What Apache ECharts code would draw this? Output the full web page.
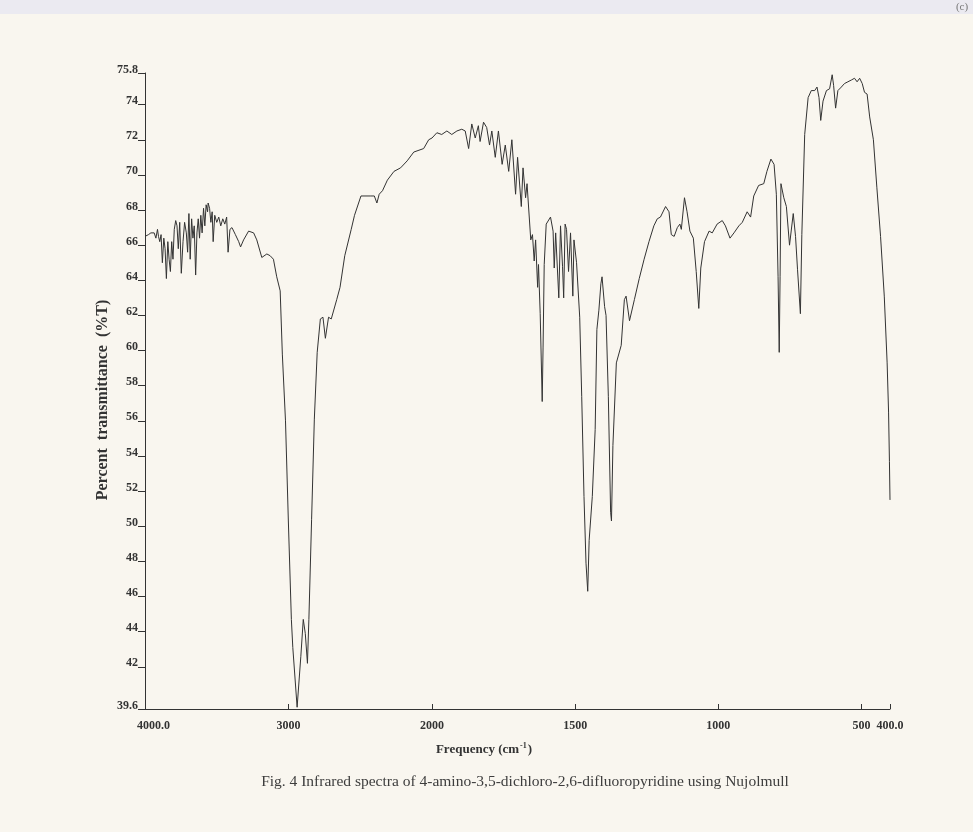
<!DOCTYPE html>
<html>
<head>
<meta charset="utf-8">
<title>IR spectrum</title>
<script src="https://cdn.jsdelivr.net/npm/echarts@6/dist/echarts.min.js"></script>
<style>
  html, body { margin: 0; padding: 0; background: #f9f6ef; }
  #chart { width: 973px; height: 832px; }
</style>
</head>
<body>
<div id="chart"></div>
<script>
// wavenumber (cm-1), high to low
var wavenumbers = [
  4000, 3976, 3959, 3948, 3936, 3924, 3913, 3906, 3897, 3888,
  3879, 3869, 3860, 3851, 3841, 3832, 3823, 3814, 3805, 3796,
  3786, 3777, 3768, 3758, 3747, 3735, 3724, 3712, 3703, 3694,
  3685, 3675, 3666, 3657, 3647, 3638, 3629, 3620, 3611, 3602,
  3592, 3583, 3574, 3564, 3560, 3550, 3541, 3532, 3525, 3514,
  3500, 3486, 3472, 3458, 3444, 3431, 3421, 3408, 3394, 3370,
  3347, 3334, 3313, 3278, 3243, 3221, 3186, 3151, 3128, 3105,
  3082, 3058, 3043, 3021, 3001, 2980, 2970, 2961, 2940, 2914,
  2897, 2883, 2868, 2858, 2839, 2820, 2800, 2778, 2760, 2743,
  2721, 2702, 2664, 2641, 2608, 2563, 2540, 2495, 2426, 2402,
  2384, 2368, 2345, 2311, 2265, 2219, 2173, 2127, 2058, 2023,
  2000,
  1983, 1966, 1948, 1931, 1913, 1896, 1884, 1872, 1861, 1849,
  1838, 1832, 1820, 1809, 1799, 1791, 1779, 1768, 1755, 1744,
  1732, 1721, 1708, 1701, 1688, 1682, 1673, 1668, 1655, 1649,
  1643, 1638, 1631, 1628, 1622, 1615, 1612, 1608, 1601, 1586,
  1577, 1573, 1568, 1557, 1551, 1544, 1540, 1535, 1530, 1523,
  1516, 1508, 1504, 1495, 1484, 1477, 1469, 1462, 1456, 1451,
  1440, 1430, 1424, 1417, 1410, 1406, 1397, 1392, 1384, 1376,
  1373, 1368, 1356, 1339, 1328, 1322, 1310, 1293, 1276, 1259,
  1242, 1225, 1213, 1202, 1184, 1172, 1164, 1154, 1143, 1134,
  1129, 1118, 1109, 1099, 1087, 1077, 1068, 1061, 1048, 1032,
  1021, 1004, 986, 975, 959, 945, 928, 916, 910, 899,
  887, 876, 859, 841, 830, 816, 805, 797, 791, 787,
  784, 781, 771, 762, 751, 738, 730, 723, 713, 708,
  698, 686, 675, 663, 655, 648, 642, 634, 622, 611,
  602, 597, 590, 582, 570, 559, 547, 535, 524, 515,
  506, 497, 489, 480, 471, 458, 446, 433, 420, 410,
  405, 402, 400
];

// percent transmittance at each wavenumber
var transmittance = [
  66.5, 66.6, 66.7, 66.6, 66.7, 66.4, 66.9, 66.5, 66.2, 66.6,
  65.0, 66.4, 65.8, 64.1, 66.2, 65.2, 64.5, 66.2, 65.2, 66.9,
  67.4, 67.1, 65.8, 67.3, 64.4, 66.2, 67.3, 66.7, 65.6, 67.8,
  65.2, 67.5, 66.4, 67.1, 64.3, 66.7, 67.5, 66.4, 67.7, 66.7,
  68.1, 67.1, 68.3, 67.9, 68.4, 68.1, 67.3, 67.9, 66.2, 67.7,
  67.3, 67.6, 67.1, 67.5, 67.2, 67.6, 65.6, 66.9, 67.0, 66.6,
  66.2, 65.9, 66.3, 66.8, 66.7, 66.3, 65.3, 65.5, 65.4, 65.2,
  64.2, 63.4, 59.8, 56.0, 50.3, 44.7, 43.1, 43.0, 39.7, 42.6,
  44.7, 43.9, 42.2, 44.7, 50.4, 56.1, 59.9, 61.8, 61.9, 60.7,
  61.9, 61.8, 62.9, 63.6, 65.4, 66.9, 67.7, 68.8, 68.8, 68.8,
  68.4, 68.9, 69.1, 69.7, 70.2, 70.4, 70.8, 71.3, 71.5, 72.0,
  72.1,
  72.4, 72.3, 72.5, 72.3, 72.5, 72.6, 72.5, 71.5, 72.9, 72.1,
  72.8, 71.9, 73.0, 72.7, 71.7, 72.5, 71.0, 72.5, 70.6, 71.7,
  70.2, 72.0, 68.9, 71.0, 68.2, 70.4, 68.7, 69.5, 66.3, 66.6,
  65.1, 66.3, 63.6, 64.9, 62.1, 57.1, 60.2, 64.9, 67.2, 67.6,
  66.8, 64.7, 66.7, 63.0, 67.1, 64.8, 63.0, 67.2, 66.9, 64.5,
  66.7, 63.1, 66.3, 65.0, 61.9, 57.4, 51.7, 47.9, 46.3, 49.2,
  51.7, 55.5, 61.2, 62.3, 63.8, 64.2, 62.5, 62.0, 57.4, 50.8,
  50.3, 54.6, 59.3, 60.3, 62.9, 63.1, 61.7, 62.9, 64.1, 65.2,
  66.2, 67.1, 67.5, 67.6, 68.2, 67.9, 66.6, 66.5, 67.0, 67.2,
  66.9, 68.7, 67.9, 66.8, 66.4, 64.5, 62.4, 64.7, 66.2, 66.8,
  66.7, 67.2, 67.4, 67.1, 66.4, 66.7, 67.1, 67.3, 67.2, 67.9,
  67.6, 68.8, 69.4, 69.5, 70.2, 70.9, 70.6, 68.9, 64.2, 59.9,
  64.2, 69.5, 68.7, 68.2, 66.0, 67.8, 66.5, 64.6, 62.1, 66.6,
  72.3, 74.4, 74.8, 74.8, 75.0, 74.4, 73.1, 74.2, 74.8, 74.9,
  75.7, 75.1, 73.8, 74.8, 75.0, 75.2, 75.3, 75.4, 75.5, 75.3,
  75.5, 75.2, 74.7, 74.6, 73.3, 72.0, 69.3, 66.5, 63.1, 59.3,
  56.5, 53.7, 51.5
];

var yTicks = [39.6, 42, 44, 46, 48, 50, 52, 54, 56, 58, 60, 62, 64, 66, 68, 70, 72, 74, 75.8];
var xTicksHigh = [4000, 3000, 2000];
var xTicksLow = [1500, 1000, 500, 400];
var caption = 'Fig. 4 Infrared spectra of 4-amino-3,5-dichloro-2,6-difluoropyridine using Nujolmull';

var serif = 'Liberation Serif';
var ink = '#333333';

// the instrument changes scale at 2000 cm-1, so two grids sit side by side
var highPart = [];
var lowPart = [];
wavenumbers.forEach(function (wn, i) {
  if (wn >= 2000) highPart.push([wn, transmittance[i]]);
  if (wn <= 2000) lowPart.push([wn, transmittance[i]]);
});

var tickLabel = {
  color: ink,
  fontFamily: serif,
  fontWeight: 'bold',
  fontSize: 12
};

function xAxisFor(grid, min, max, ticks, fmt) {
  return {
    type: 'value',
    gridIndex: grid,
    min: min,
    max: max,
    inverse: true,
    splitLine: { show: false },
    axisLine: { show: true, lineStyle: { color: ink, width: 1 } },
    axisTick: { show: true, inside: true, length: 5, customValues: ticks, lineStyle: { color: ink } },
    axisLabel: Object.assign({
      show: true,
      margin: 11,
      customValues: ticks,
      formatter: fmt,
      rich: {
        s: { color: ink, fontFamily: serif, fontWeight: 'bold', fontSize: 12, padding: [0, 0, 0, 17] }
      }
    }, tickLabel)
  };
}

var myChart = echarts.init(document.getElementById('chart'));

var option = {
  backgroundColor: '#f9f6ef',
  animation: false,
  grid: [
    { left: 145, right: 541, top: 73, bottom: 123 },
    { left: 432, right: 83, top: 73, bottom: 123 }
  ],
  xAxis: [
    xAxisFor(0, 2000, 4000, xTicksHigh, function (v) {
      return v === 4000 ? '{s|4000.0}' : String(v);
    }),
    xAxisFor(1, 400, 2000, xTicksLow, function (v) {
      return v === 400 ? '400.0' : String(v);
    })
  ],
  yAxis: [
    {
      type: 'value',
      gridIndex: 0,
      min: 39.6,
      max: 75.8,
      splitLine: { show: false },
      axisLine: { show: true, lineStyle: { color: ink, width: 1 } },
      axisTick: { show: true, inside: false, length: 7, customValues: yTicks, lineStyle: { color: ink } },
      // labels sit just above their tick, as on the printed chart
      axisLabel: Object.assign({
        margin: 7,
        verticalAlign: 'bottom',
        lineHeight: 7,
        customValues: yTicks,
        formatter: function (v) {
          return Number.isInteger(v) ? String(v) : v.toFixed(1);
        }
      }, tickLabel)
    },
    {
      type: 'value',
      gridIndex: 1,
      min: 39.6,
      max: 75.8,
      show: false
    }
  ],
  series: [
    {
      type: 'line',
      xAxisIndex: 0,
      yAxisIndex: 0,
      data: highPart,
      showSymbol: false,
      lineStyle: { color: ink, width: 1 }
    },
    {
      type: 'line',
      xAxisIndex: 1,
      yAxisIndex: 1,
      data: lowPart,
      showSymbol: false,
      lineStyle: { color: ink, width: 1 }
    }
  ],
  graphic: [
    // scanner edge along the top
    { type: 'rect', shape: { x: 0, y: 0, width: 973, height: 14 }, style: { fill: '#ebeaf1' }, silent: true },
    {
      type: 'text',
      x: 962,
      y: 7,
      style: { text: '(c)', fill: '#777', font: '11px "Liberation Serif"', align: 'center', verticalAlign: 'middle' }
    },
    {
      type: 'text',
      x: 103,
      y: 400,
      rotation: Math.PI / 2,
      style: {
        text: 'Percent  transmittance  (%T)',
        fill: ink,
        font: 'bold 16px "Liberation Serif"',
        align: 'center',
        verticalAlign: 'middle'
      }
    },
    {
      type: 'text',
      x: 484,
      y: 750,
      style: {
        text: '{t|Frequency (cm}{u|-1}{t|)}',
        align: 'center',
        verticalAlign: 'middle',
        rich: {
          t: { fill: ink, fontFamily: serif, fontWeight: 'bold', fontSize: 13, lineHeight: 16 },
          u: { fill: ink, fontFamily: serif, fontWeight: 'bold', fontSize: 8, verticalAlign: 'top', lineHeight: 16, padding: [0, 1, 6, 1] }
        }
      }
    },
    {
      type: 'text',
      x: 525,
      y: 782,
      style: {
        text: caption,
        fill: '#3d3d3d',
        font: '15.5px "Liberation Serif"',
        align: 'center',
        verticalAlign: 'middle'
      }
    }
  ]
};

myChart.setOption(option, true);
</script>
</body>
</html>
